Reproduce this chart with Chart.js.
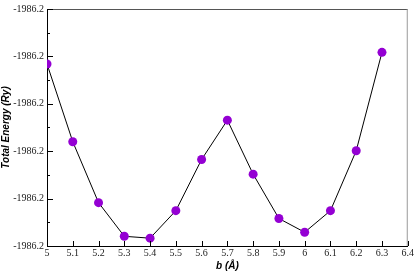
<!DOCTYPE html>
<html>
<head>
<meta charset="utf-8">
<script src="https://cdn.jsdelivr.net/npm/chart.js@4/dist/chart.umd.min.js"></script>
<style>
  html, body { margin: 0; padding: 0; background: #fff; }
  #wrap { width: 415px; height: 272px; }
</style>
</head>
<body>
<div id="wrap"><canvas id="energyChart"></canvas></div>
<script>
// ---------------- DATA ----------------
const bValues = [5.0, 5.1, 5.2, 5.3, 5.4, 5.5, 5.6, 5.7, 5.8, 5.9, 6.0, 6.1, 6.2, 6.3];
const energies = [
    -1986.20232, -1986.20560, -1986.20817, -1986.20959, -1986.20967,
    -1986.20851, -1986.20635, -1986.20469, -1986.20697, -1986.20884,
    -1986.20942, -1986.20851, -1986.20598, -1986.20183
];
const yTickLabel = "-1986.2";
const xTitle = "b (Å)";
const yTitle = "Total Energy (Ry)";

// ---------------- INWARD TICKS + FRAME ----------------
const frameTicks = {
    id: "frameTicks",
    afterDatasetsDraw(chart) {
        const ctx = chart.ctx;
        const area = chart.chartArea;
        const xs = chart.scales.x;
        const ys = chart.scales.y;

        ctx.save();
        ctx.lineWidth = 1;

        // top and right border
        ctx.strokeStyle = "#555";
        ctx.beginPath();
        ctx.moveTo(area.left, area.top + 0.5);
        ctx.lineTo(area.right, area.top + 0.5);
        ctx.stroke();
        ctx.strokeStyle = "#999";
        ctx.beginPath();
        ctx.moveTo(area.right - 0.5, area.top);
        ctx.lineTo(area.right - 0.5, area.bottom);
        ctx.stroke();

        ctx.strokeStyle = "#000";
        ctx.beginPath();
        // x ticks
        xs.ticks.forEach(t => {
            let px = Math.round(xs.getPixelForValue(t.value)) + 0.5;
            ctx.moveTo(px, area.bottom);
            ctx.lineTo(px, area.bottom - 5);
        });
        // y ticks, major and minor
        ys.ticks.forEach((t, i) => {
            let py = Math.round(ys.getPixelForValue(t.value)) + 0.5;
            ctx.moveTo(area.left, py);
            ctx.lineTo(area.left + 6, py);
            if (i < ys.ticks.length - 1) {
                let mid = (t.value + ys.ticks[i + 1].value) / 2;
                let pm = Math.round(ys.getPixelForValue(mid)) + 0.5;
                ctx.moveTo(area.left, pm);
                ctx.lineTo(area.left + 3, pm);
            }
        });
        ctx.stroke();
        ctx.restore();
    }
};

// ---------------- CHART ----------------
new Chart(document.getElementById("energyChart"), {
    type: "line",
    data: {
        datasets: [{
            data: bValues.map((b, i) => ({ x: b, y: energies[i] })),
            borderColor: "#000",
            borderWidth: 1,
            pointRadius: 4.5,
            pointBackgroundColor: "#9400d3",
            pointBorderColor: "#9400d3",
            pointBorderWidth: 0,
            tension: 0
        }]
    },
    options: {
        responsive: true,
        maintainAspectRatio: false,
        animation: false,
        layout: { padding: { top: 5, right: 7, left: 0, bottom: 0 } },
        plugins: {
            legend: { display: false },
            tooltip: { enabled: false }
        },
        scales: {
            x: {
                type: "linear",
                min: 5,
                max: 6.4,
                afterFit: s => { s.height = 26; },
                ticks: {
                    stepSize: 0.1,
                    padding: 1,
                    maxRotation: 0,
                    autoSkip: false,
                    color: "#222",
                    font: { family: "Liberation Serif", size: 10 },
                    callback: v => String(Number(v.toFixed(1)))
                },
                grid: { drawOnChartArea: false, drawTicks: false },
                border: { color: "#000", width: 1 },
                title: {
                    display: true,
                    text: xTitle,
                    color: "#000",
                    padding: { top: 0, bottom: 0 },
                    font: { family: "Liberation Sans", size: 10, weight: "bold", style: "italic" }
                }
            },
            y: {
                min: -1986.210,
                max: -1986.200,
                afterFit: s => { s.width = 47; },
                ticks: {
                    stepSize: 0.002,
                    padding: 3,
                    color: "#222",
                    font: { family: "Liberation Serif", size: 10 },
                    callback: () => yTickLabel
                },
                grid: { drawOnChartArea: false, drawTicks: false },
                border: { color: "#000", width: 1 },
                title: {
                    display: true,
                    text: yTitle,
                    color: "#000",
                    padding: { top: 0, bottom: 0 },
                    font: { family: "Liberation Sans", size: 10, weight: "bold", style: "italic" }
                }
            }
        }
    },
    plugins: [frameTicks]
});
</script>
</body>
</html>
